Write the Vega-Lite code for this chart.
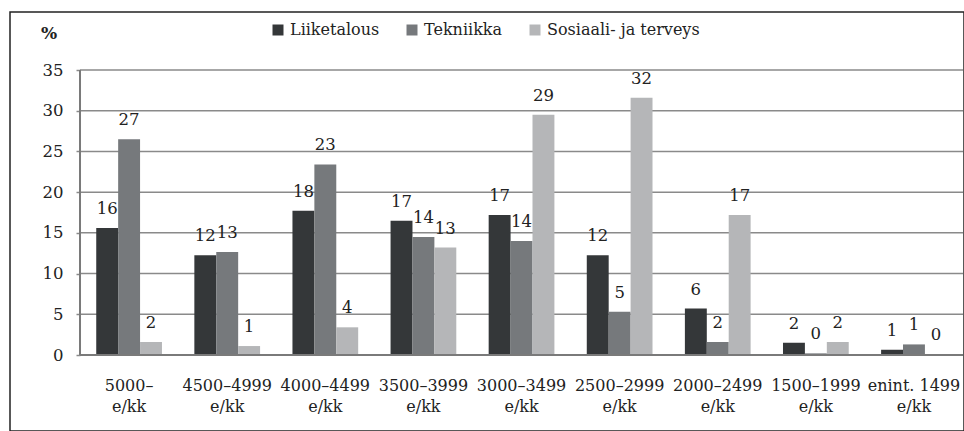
{
  "$schema": "https://vega.github.io/schema/vega-lite/v6.json",
  "width": 954,
  "height": 419,
  "autosize": {"type": "none"},
  "padding": {"left": 10, "top": 12, "right": 0, "bottom": 0},
  "background": "white",
  "config": {
    "font": "DejaVu Serif",
    "view": {"stroke": "#222222", "strokeWidth": 1.5},
    "axis": {"labelFont": "DejaVu Serif", "titleFont": "DejaVu Serif"},
    "legend": {"labelFont": "DejaVu Serif"}
  },
  "datasets": {
    "bars": [
      {"c": "5000–", "s": "Liiketalous", "v": 15.6, "l": "16"},
      {"c": "5000–", "s": "Tekniikka", "v": 26.5, "l": "27"},
      {"c": "5000–", "s": "Sosiaali- ja terveys", "v": 1.6, "l": "2"},
      {"c": "4500–4999", "s": "Liiketalous", "v": 12.25, "l": "12"},
      {"c": "4500–4999", "s": "Tekniikka", "v": 12.65, "l": "13"},
      {"c": "4500–4999", "s": "Sosiaali- ja terveys", "v": 1.1, "l": "1"},
      {"c": "4000–4499", "s": "Liiketalous", "v": 17.7, "l": "18"},
      {"c": "4000–4499", "s": "Tekniikka", "v": 23.4, "l": "23"},
      {"c": "4000–4499", "s": "Sosiaali- ja terveys", "v": 3.4, "l": "4"},
      {"c": "3500–3999", "s": "Liiketalous", "v": 16.5, "l": "17"},
      {"c": "3500–3999", "s": "Tekniikka", "v": 14.5, "l": "14"},
      {"c": "3500–3999", "s": "Sosiaali- ja terveys", "v": 13.2, "l": "13"},
      {"c": "3000–3499", "s": "Liiketalous", "v": 17.2, "l": "17"},
      {"c": "3000–3499", "s": "Tekniikka", "v": 14.0, "l": "14"},
      {"c": "3000–3499", "s": "Sosiaali- ja terveys", "v": 29.5, "l": "29"},
      {"c": "2500–2999", "s": "Liiketalous", "v": 12.25, "l": "12"},
      {"c": "2500–2999", "s": "Tekniikka", "v": 5.3, "l": "5"},
      {"c": "2500–2999", "s": "Sosiaali- ja terveys", "v": 31.6, "l": "32"},
      {"c": "2000–2499", "s": "Liiketalous", "v": 5.7, "l": "6"},
      {"c": "2000–2499", "s": "Tekniikka", "v": 1.6, "l": "2"},
      {"c": "2000–2499", "s": "Sosiaali- ja terveys", "v": 17.2, "l": "17"},
      {"c": "1500–1999", "s": "Liiketalous", "v": 1.5, "l": "2"},
      {"c": "1500–1999", "s": "Tekniikka", "v": 0.2, "l": "0"},
      {"c": "1500–1999", "s": "Sosiaali- ja terveys", "v": 1.6, "l": "2"},
      {"c": "enint. 1499", "s": "Liiketalous", "v": 0.65, "l": "1"},
      {"c": "enint. 1499", "s": "Tekniikka", "v": 1.3, "l": "1"},
      {"c": "enint. 1499", "s": "Sosiaali- ja terveys", "v": 0.1, "l": "0"}
    ],
    "grid": [
      {"g": 5}, {"g": 10}, {"g": 15}, {"g": 20}, {"g": 25}, {"g": 30}, {"g": 35}
    ]
  },
  "resolve": {"scale": {"x": "independent"}},
  "layer": [
    {
      "data": {"name": "grid"},
      "mark": {"type": "rule", "color": "#8a8a8a", "strokeWidth": 1.5},
      "encoding": {
        "y": {
          "field": "g", "type": "quantitative",
          "scale": {"domain": [-9.333, 42.123], "nice": false, "zero": false},
          "axis": {
            "title": "%", "titleAngle": 0, "titleFontSize": 17, "titleFontWeight": "bold", "titleColor": "#222222",
            "titleX": -31.5, "titleY": 21, "titleAlign": "center", "titleBaseline": "middle",
            "offset": -70, "domain": false, "grid": false, "ticks": true, "tickSize": 4, "tickColor": "#8a8a8a", "tickWidth": 1.5,
            "values": [0, 5, 10, 15, 20, 25, 30, 35], "labelFontSize": 16.5, "labelColor": "#222222", "labelPadding": 13
          }
        },
        "x": {"datum": 0, "type": "quantitative", "scale": {"domain": [-0.07928, 1.00113], "nice": false, "zero": false}, "axis": null},
        "x2": {"datum": 1}
      }
    },
    {
      "data": {"name": "bars"},
      "layer": [
        {
          "mark": {"type": "bar"},
          "encoding": {
            "x": {
              "field": "c", "type": "nominal", "sort": null,
              "scale": {"paddingInner": 0.33, "paddingOuter": 0.527, "align": 0.834},
              "axis": {
                "title": null, "orient": "bottom", "offset": -64, "domain": false, "ticks": false,
                "labelAngle": 0, "labelFontSize": 16, "labelColor": "#222222", "labelPadding": 10,
                "labelLineHeight": 21.5, "labelExpr": "[datum.label, 'e/kk']", "labelBaseline": "top"
              }
            },
            "xOffset": {"field": "s", "type": "nominal", "sort": ["Liiketalous", "Tekniikka", "Sosiaali- ja terveys"], "scale": {"paddingInner": 0, "paddingOuter": 0}},
            "y": {"field": "v", "type": "quantitative"},
            "y2": {"datum": 0},
            "color": {
              "field": "s", "type": "nominal",
              "sort": ["Liiketalous", "Tekniikka", "Sosiaali- ja terveys"],
              "scale": {"domain": ["Liiketalous", "Tekniikka", "Sosiaali- ja terveys"], "range": ["#343739", "#76797c", "#b5b6b8"]},
              "legend": {
                "title": null, "orient": "none", "direction": "horizontal", "legendX": 260, "legendY": 10,
                "symbolType": "square", "symbolSize": 121, "symbolStrokeWidth": 0, "symbolOpacity": 1,
                "labelFontSize": 16, "labelColor": "#222222", "labelOffset": 4, "columnPadding": 24
              }
            }
          }
        },
        {
          "mark": {"type": "text", "font": "DejaVu Serif", "fontSize": 16.5, "color": "#222222", "baseline": "alphabetic", "dy": -14},
          "encoding": {
            "x": {"field": "c", "type": "nominal", "sort": null},
            "xOffset": {"field": "s", "type": "nominal", "sort": ["Liiketalous", "Tekniikka", "Sosiaali- ja terveys"]},
            "y": {"field": "v", "type": "quantitative"},
            "text": {"field": "l"}
          }
        }
      ]
    },
    {
      "data": {"values": [{"a": 0}]},
      "mark": {"type": "rule", "color": "#7a7a7a", "strokeWidth": 2},
      "encoding": {
        "y": {"datum": 0, "type": "quantitative"},
        "x": {"datum": 0, "type": "quantitative", "scale": {"domain": [-0.07928, 1.00113], "nice": false, "zero": false}, "axis": null},
        "x2": {"datum": 1}
      }
    },
    {
      "data": {"values": [{"a": 0}]},
      "mark": {"type": "rule", "color": "#7a7a7a", "strokeWidth": 2},
      "encoding": {
        "y": {"datum": 0, "type": "quantitative"},
        "y2": {"datum": 35},
        "x": {"datum": 0, "type": "quantitative", "scale": {"domain": [-0.07928, 1.00113], "nice": false, "zero": false}, "axis": null}
      }
    }
  ]
}
